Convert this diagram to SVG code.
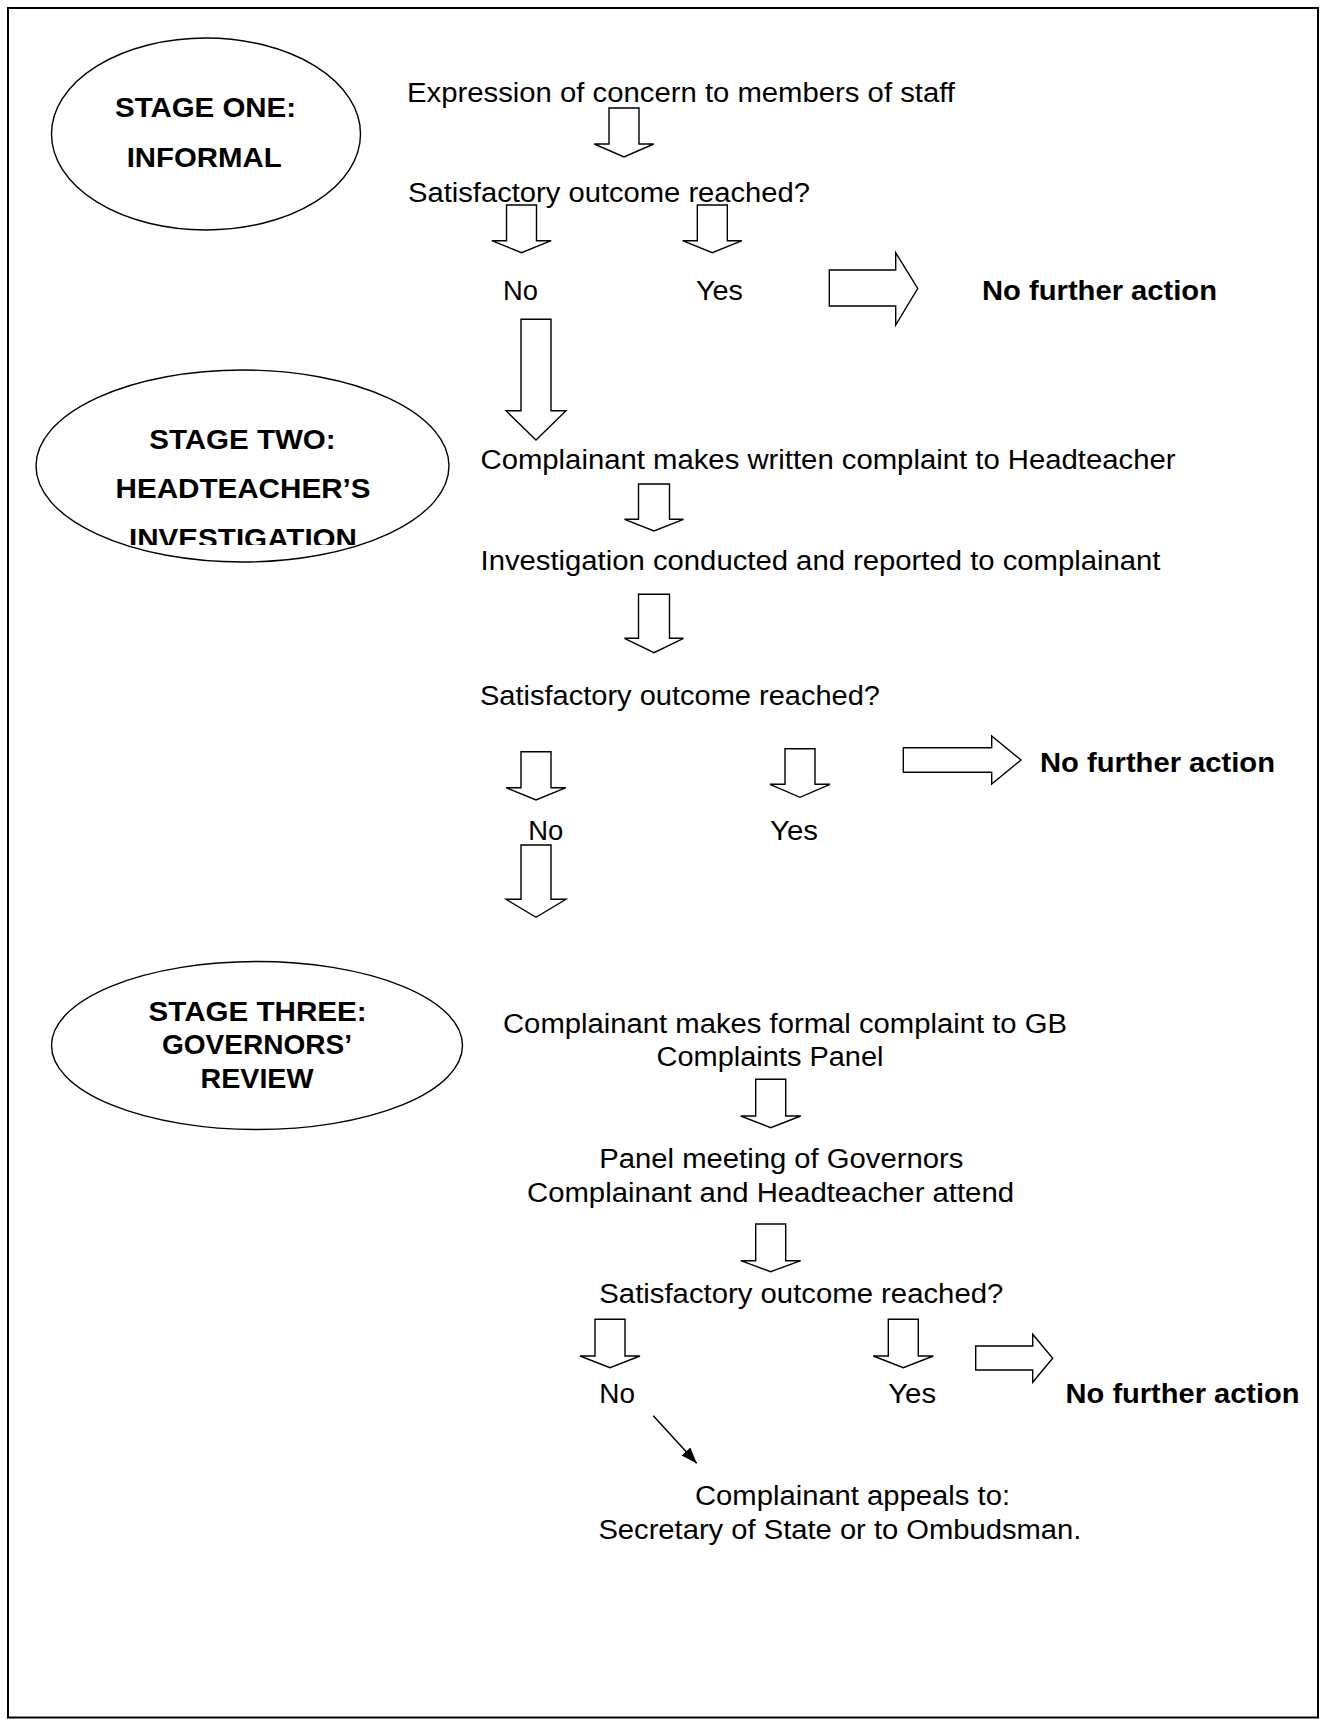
<svg xmlns="http://www.w3.org/2000/svg" width="1324" height="1719" viewBox="0 0 1324 1719">
<style>
.t{font-family:"Liberation Sans",Arial,Helvetica,sans-serif;font-size:27px;fill:#000}
.b{font-family:"Liberation Sans",Arial,Helvetica,sans-serif;font-size:28px;font-weight:bold;fill:#000}
.el{fill:#fff;stroke:#000;stroke-width:1.4}
.ba{fill:#fff;stroke:#000;stroke-width:1.4;stroke-linejoin:miter}
.ln{stroke:#000;stroke-width:1.5;fill:none}
</style>
<defs>
<marker id="ah" markerUnits="userSpaceOnUse" viewBox="0 0 16 12" refX="16" refY="6" markerWidth="16" markerHeight="12" orient="auto">
<path d="M0,0 L16,6 L0,12 z" fill="#000"/>
</marker>
<clipPath id="clipInv"><rect x="40" y="505" width="400" height="40"/></clipPath>
</defs>
<rect x="8" y="8" width="1310" height="1709.5" fill="#fff" stroke="#000" stroke-width="2"/>

<g id="stage-one">
<ellipse class="el" cx="206" cy="134" rx="154.5" ry="96"/>
<text class="b" x="115" y="117" textLength="181" lengthAdjust="spacingAndGlyphs">STAGE ONE:</text>
<text class="b" x="126.7" y="167" textLength="155" lengthAdjust="spacingAndGlyphs">INFORMAL</text>
</g>
<g id="stage-two">
<ellipse class="el" cx="242.5" cy="466" rx="206.5" ry="96"/>
<text class="b" x="149.2" y="449" textLength="186.5" lengthAdjust="spacingAndGlyphs">STAGE TWO:</text>
<text class="b" x="115.5" y="498" textLength="255" lengthAdjust="spacingAndGlyphs">HEADTEACHER’S</text>
<text class="b" x="129" y="548" textLength="228" lengthAdjust="spacingAndGlyphs" clip-path="url(#clipInv)">INVESTIGATION</text>
</g>
<g id="stage-three">
<ellipse class="el" cx="257" cy="1045.5" rx="205.5" ry="84"/>
<text class="b" x="148.6" y="1020.5" textLength="218" lengthAdjust="spacingAndGlyphs">STAGE THREE:</text>
<text class="b" x="162" y="1054" textLength="190" lengthAdjust="spacingAndGlyphs">GOVERNORS’</text>
<text class="b" x="200.5" y="1088" textLength="113" lengthAdjust="spacingAndGlyphs">REVIEW</text>
</g>

<g id="n-expression"><text class="t" x="407" y="102" textLength="548" lengthAdjust="spacingAndGlyphs">Expression of concern to members of staff</text></g>
<g id="n-satisfactory-1"><text class="t" x="408" y="202" textLength="402" lengthAdjust="spacingAndGlyphs">Satisfactory outcome reached?</text></g>
<g id="n-no-1"><text class="t" x="503" y="300" textLength="35" lengthAdjust="spacingAndGlyphs">No</text></g>
<g id="n-yes-1"><text class="t" x="696" y="300" textLength="47" lengthAdjust="spacingAndGlyphs">Yes</text></g>
<g id="n-nfa-1"><text class="b" x="982" y="300" textLength="235" lengthAdjust="spacingAndGlyphs">No further action</text></g>

<g id="n-written"><text class="t" x="480.5" y="469" textLength="695" lengthAdjust="spacingAndGlyphs">Complainant makes written complaint to Headteacher</text></g>
<g id="n-investigation"><text class="t" x="480.5" y="570" textLength="680" lengthAdjust="spacingAndGlyphs">Investigation conducted and reported to complainant</text></g>
<g id="n-satisfactory-2"><text class="t" x="480" y="705" textLength="400" lengthAdjust="spacingAndGlyphs">Satisfactory outcome reached?</text></g>
<g id="n-no-2"><text class="t" x="528.3" y="840" textLength="35" lengthAdjust="spacingAndGlyphs">No</text></g>
<g id="n-yes-2"><text class="t" x="770" y="840" textLength="48" lengthAdjust="spacingAndGlyphs">Yes</text></g>
<g id="n-nfa-2"><text class="b" x="1040" y="772" textLength="235" lengthAdjust="spacingAndGlyphs">No further action</text></g>

<g id="n-formal">
<text class="t" x="503" y="1033" textLength="564" lengthAdjust="spacingAndGlyphs">Complainant makes formal complaint to GB</text>
<text class="t" x="656.5" y="1066" textLength="227" lengthAdjust="spacingAndGlyphs">Complaints Panel</text>
</g>
<g id="n-panel">
<text class="t" x="599.3" y="1168.3" textLength="364" lengthAdjust="spacingAndGlyphs">Panel meeting of Governors</text>
<text class="t" x="527" y="1201.7" textLength="487" lengthAdjust="spacingAndGlyphs">Complainant and Headteacher attend</text>
</g>
<g id="n-satisfactory-3"><text class="t" x="599.3" y="1303.3" textLength="404" lengthAdjust="spacingAndGlyphs">Satisfactory outcome reached?</text></g>
<g id="n-no-3"><text class="t" x="599.3" y="1403.3" textLength="35.7" lengthAdjust="spacingAndGlyphs">No</text></g>
<g id="n-yes-3"><text class="t" x="888.3" y="1403.3" textLength="47.7" lengthAdjust="spacingAndGlyphs">Yes</text></g>
<g id="n-nfa-3"><text class="b" x="1065.6" y="1403" textLength="234" lengthAdjust="spacingAndGlyphs">No further action</text></g>
<g id="n-appeal">
<text class="t" x="695" y="1505" textLength="315" lengthAdjust="spacingAndGlyphs">Complainant appeals to:</text>
<text class="t" x="598.4" y="1539" textLength="483" lengthAdjust="spacingAndGlyphs">Secretary of State or to Ombudsman.</text>
</g>

<g id="connectors">
<polygon class="ba" points="609,108 639,108 639,144 653.7,144 624,157 594.3,144 609,144"/>
<polygon class="ba" points="506.5,205 536.5,205 536.5,240.7 551.2,240.7 521.5,252.7 491.8,240.7 506.5,240.7"/>
<polygon class="ba" points="697.3,205 727.3,205 727.3,240.7 742,240.7 712.3,252.7 682.6,240.7 697.3,240.7"/>
<polygon class="ba" points="829.3,270 895.7,270 895.7,252.7 917.7,288.5 895.7,325 895.7,306 829.3,306"/>
<polygon class="ba" points="521,319.3 551,319.3 551,410.7 566,410.7 536,440 506,410.7 521,410.7"/>

<polygon class="ba" points="638.5,484 669.5,484 669.5,519.3 683.5,519.3 654,531 624.5,519.3 638.5,519.3"/>
<polygon class="ba" points="638.5,594.3 669.5,594.3 669.5,638.3 683.5,638.3 654,652.7 624.5,638.3 638.5,638.3"/>
<polygon class="ba" points="521,751.7 551,751.7 551,787.7 566,787.7 536,800 506,787.7 521,787.7"/>
<polygon class="ba" points="785,748.7 815,748.7 815,784.3 830,784.3 800,797.3 770,784.3 785,784.3"/>
<polygon class="ba" points="903.3,747.7 991.7,747.7 991.7,736 1021,760 991.7,784 991.7,772.3 903.3,772.3"/>
<polygon class="ba" points="521,845 551,845 551,899.3 566,899.3 536,917.3 506,899.3 521,899.3"/>

<polygon class="ba" points="755.7,1079.3 785.7,1079.3 785.7,1116 800.7,1116 770.7,1127.7 740.7,1116 755.7,1116"/>
<polygon class="ba" points="755.7,1224 785.7,1224 785.7,1260.7 800.7,1260.7 770.7,1271.7 740.7,1260.7 755.7,1260.7"/>
<polygon class="ba" points="595,1319.3 625,1319.3 625,1356 640,1356 610,1367.7 580,1356 595,1356"/>
<polygon class="ba" points="888.3,1319.3 918.3,1319.3 918.3,1356 933.3,1356 903.3,1367.7 873.3,1356 888.3,1356"/>
<polygon class="ba" points="975.7,1346 1032.7,1346 1032.7,1334.3 1052.7,1358.3 1032.7,1382.3 1032.7,1370 975.7,1370"/>
<line class="ln" x1="653.3" y1="1415.7" x2="696.7" y2="1463.3" marker-end="url(#ah)"/>
</g>
</svg>
